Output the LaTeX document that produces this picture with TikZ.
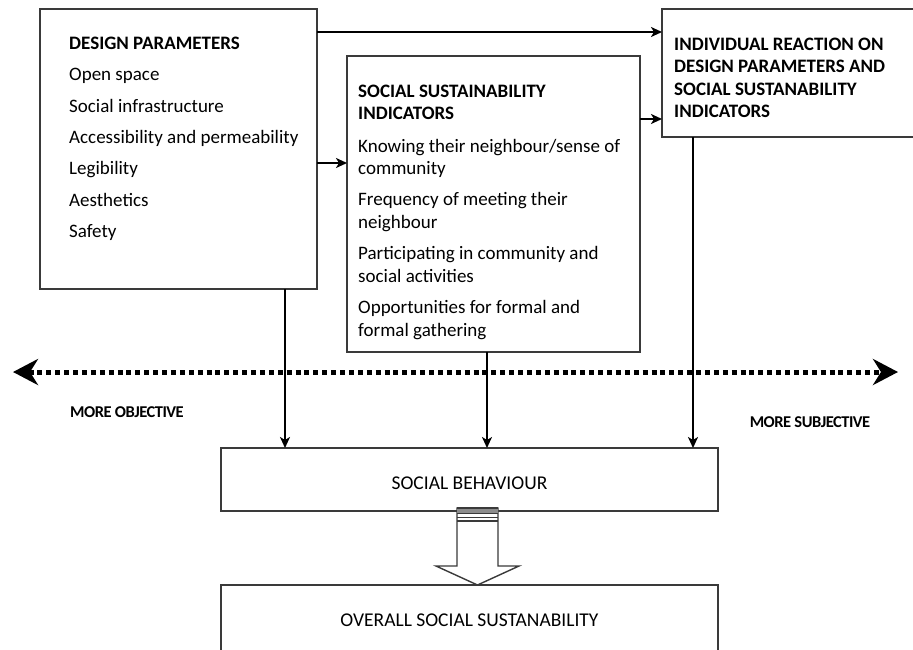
\documentclass[tikz,border=0pt]{standalone}
\usepackage{fontspec}
\setmainfont{Carlito}
\usetikzlibrary{arrows.meta}

\definecolor{edge}{HTML}{3A3A3A}
\definecolor{band}{HTML}{8C8C8C}

\tikzset{
  box/.style={draw=edge, line width=1.6pt, fill=white, inner sep=0pt, outer sep=0pt, anchor=north west},
  txt/.style={anchor=base west, inner sep=0pt, font=\fontsize{19}{22}\selectfont},
  head/.style={txt, font=\fontsize{19}{22}\selectfont\bfseries},
  side/.style={anchor=base, inner sep=0pt, font=\fontsize{16.5}{18}\selectfont\bfseries\addfontfeature{LetterSpace=-3}},
  mid/.style={anchor=base, inner sep=0pt, font=\fontsize{19.5}{22}\selectfont},
  arr/.style={line width=1.9pt, -{Stealth[length=11pt, width=10pt, inset=3pt]}},
  scale line/.style={line width=5pt, dash pattern=on 5pt off 3.9pt,
    {Stealth[length=25pt, width=26pt, inset=8pt]}-{Stealth[length=25pt, width=26pt, inset=8pt]}},
  blockarrow/.style={draw=edge, line width=1.4pt, fill=white, line join=miter}
}

\begin{document}
\begin{tikzpicture}[x=1pt, y=-1pt]
  \clip (0,0) rectangle (913,649);
  \fill[white] (0,0) rectangle (913,649);

  % boxes
  \node[box, minimum width=277pt, minimum height=280pt] (dp) at (40,9) {};
  \node[box, minimum width=293pt, minimum height=296pt] (ssi) at (347,56) {};
  \node[box, minimum width=270pt, minimum height=128pt] (ir) at (662,9) {};
  \node[box, minimum width=497pt, minimum height=63pt] (sb) at (221,448) {};
  \node[box, minimum width=497pt, minimum height=80pt] (oss) at (221,585) {};

  % design parameters
  \node[head] (dpt) at (69,49) {DESIGN PARAMETERS};
  \foreach \t [count=\i from 0] in {Open space, Social infrastructure,
      Accessibility and permeability, Legibility, Aesthetics, Safety}
    \node[txt] (dp\i) at (69,{80.8+31.3*\i}) {\t};

  % social sustainability indicators
  \node[head] (ssit1) at (358,97) {SOCIAL SUSTAINABILITY};
  \node[head] (ssit2) at (358,119.5) {INDICATORS};
  \node[txt] (ssi1) at (358,152) {Knowing their neighbour/sense of};
  \node[txt] (ssi2) at (358,174.5) {community};
  \node[txt] (ssi3) at (358,205.5) {Frequency of meeting their};
  \node[txt] (ssi4) at (358,228) {neighbour};
  \node[txt] (ssi5) at (358,259.5) {Participating in community and};
  \node[txt] (ssi6) at (358,282) {social activities};
  \node[txt] (ssi7) at (358,313.5) {Opportunities for formal and};
  \node[txt] (ssi8) at (358,336) {formal gathering};

  % individual reaction
  \node[head] (irt1) at (674,50) {INDIVIDUAL REACTION ON};
  \node[head] (irt2) at (674,72.5) {DESIGN PARAMETERS AND};
  \node[head] (irt3) at (674,95) {SOCIAL SUSTANABILITY};
  \node[head] (irt4) at (674,117.5) {INDICATORS};

  % lower boxes
  \node[mid] (sbt) at (469.5,489) {SOCIAL BEHAVIOUR};
  \node[mid] (osst) at (469.5,626) {OVERALL SOCIAL SUSTANABILITY};

  % objective / subjective scale
  \coordinate (objL) at (13,372);
  \coordinate (subjR) at (898,372);
  \draw[scale line] (objL) -- (subjR);
  \node[side] (obj) at (127,417) {MORE OBJECTIVE};
  \node[side] (subj) at (810,427) {MORE SUBJECTIVE};

  % connector rows and columns
  \coordinate (rowA) at (0,32);
  \coordinate (rowB) at (0,119);
  \coordinate (rowC) at (0,163);
  \coordinate (colA) at (285,0);
  \coordinate (colB) at (487,0);
  \coordinate (colC) at (693,0);

  \draw[arr] (dp.east |- rowA) -- (ir.west |- rowA);
  \draw[arr] (dp.east |- rowC) -- (ssi.west |- rowC);
  \draw[arr] (ssi.east |- rowB) -- (ir.west |- rowB);
  \draw[arr] (dp.south -| colA) -- (sb.north -| colA);
  \draw[arr] (ssi.south -| colB) -- (sb.north -| colB);
  \draw[arr] (ir.south -| colC) -- (sb.north -| colC);

  % block arrow from social behaviour to overall sustainability
  \coordinate (bt) at (477.5,508);
  \draw[blockarrow] (457,508) -- (498,508) -- (498,566) -- (519,566)
    -- (oss.north -| bt) -- (436,566) -- (457,566) -- cycle;
  \fill[band] (457,508) rectangle (498,513);
  \draw[edge, line width=1.2pt] (457,508) -- (498,508);
  \draw[edge, line width=1.2pt] (457,513.5) -- (498,513.5);
  \draw[edge, line width=1.2pt] (457,517.5) -- (498,517.5);
  \draw[edge, line width=1.2pt] (457,521) -- (498,521);
\end{tikzpicture}
\end{document}
